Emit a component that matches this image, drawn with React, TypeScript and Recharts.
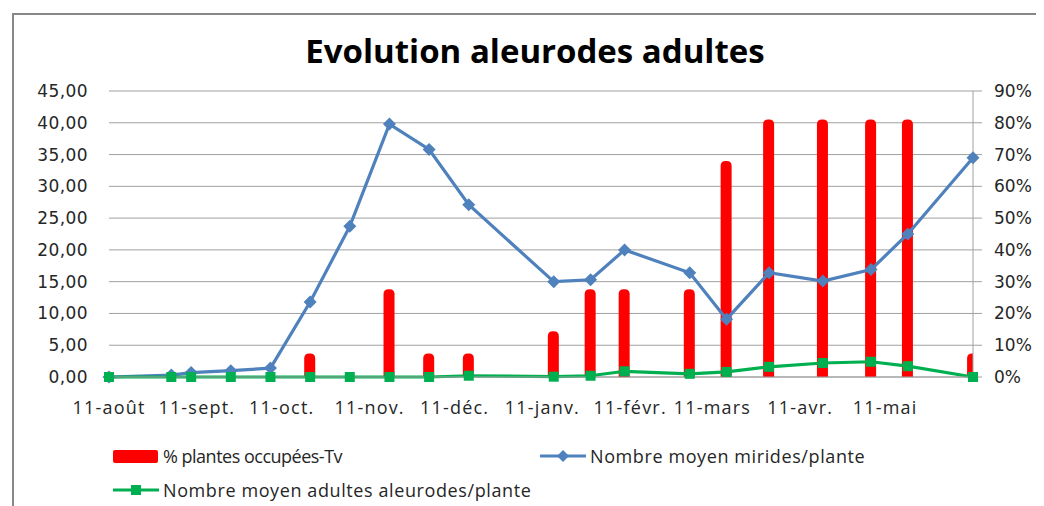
import React from 'react';
import { ComposedChart, Bar, Line, XAxis, YAxis, CartesianGrid, Legend } from 'recharts';

// ---- data ----
const sampleDates = [
  '2011-08-11', '2011-09-02', '2011-09-09', '2011-09-23', '2011-10-07', '2011-10-21',
  '2011-11-04', '2011-11-18', '2011-12-02', '2011-12-16', '2012-01-15', '2012-01-28',
  '2012-02-09', '2012-03-03', '2012-03-16', '2012-03-31', '2012-04-19', '2012-05-06',
  '2012-05-19', '2012-06-11',
];
const pctPlantesOccupees = [0, 0, 0, 0, 0, 7.4, 0, 27.6, 7.4, 7.4, 14.4, 27.6, 27.6, 27.6, 68, 81, 81, 81, 81, 7.4];
const miridesParPlante = [0, 0.3, 0.7, 1.0, 1.4, 11.8, 23.7, 39.8, 35.8, 27.1, 15.0, 15.3, 20.0, 16.4, 9.1, 16.4, 15.1, 16.9, 22.5, 34.5];
const aleurodesParPlante = [0, 0, 0, 0, 0, 0, 0, 0, 0, 0.2, 0.05, 0.2, 0.9, 0.5, 0.8, 1.6, 2.2, 2.4, 1.7, 0];
const tickDates = ['2011-08-11', '2011-09-11', '2011-10-11', '2011-11-11', '2011-12-11', '2012-01-11', '2012-02-11', '2012-03-11', '2012-04-11', '2012-05-11'];
const tickLabels = ['11-août', '11-sept.', '11-oct.', '11-nov.', '11-déc.', '11-janv.', '11-févr.', '11-mars', '11-avr.', '11-mai'];
const leftTicks = [0, 5, 10, 15, 20, 25, 30, 35, 40, 45];
const rightTicks = [0, 10, 20, 30, 40, 50, 60, 70, 80, 90];
const seriesNames = ['% plantes occupées-Tv', 'Nombre moyen mirides/plante', 'Nombre moyen adultes aleurodes/plante'];
const title = 'Evolution aleurodes adultes';

// ---- layout / style ----
const W = 1036;
const H = 498;
const LEFT_AXIS_W = 101;
const RIGHT_AXIS_W = 71;
const MARGIN = { top: 83, right: 0, bottom: 89, left: 0 };
const PLOT_LEFT = MARGIN.left + LEFT_AXIS_W;
const PLOT_RIGHT = W - MARGIN.right - RIGHT_AXIS_W;
const RED = '#FF0000';
const BLUE = '#4F81BD';
const GREEN = '#00B050';
const GRID = '#a0a0a0';
const TEXT = '#262626';

const DAY = 86400000;
const toDay = (iso: string) => Date.parse(iso + 'T00:00:00Z') / DAY;

const data = sampleDates.map((d, i) => ({
  t: toDay(d),
  pct: pctPlantesOccupees[i],
  mir: miridesParPlante[i],
  ale: aleurodesParPlante[i],
}));
const tickValues = tickDates.map(toDay);
const labelByTick = new Map<number, string>(tickValues.map((v, i) => [v, tickLabels[i]]));

const RedBar = (props: any) => {
  const { x, y, width, height, index } = props;
  if (!height || height <= 0) return null;
  const r = Math.min(width / 2, 5);
  const d = `M${x},${y + height} L${x},${y + r} Q${x},${y} ${x + r},${y} L${x + width - r},${y} Q${x + width},${y} ${x + width},${y + r} L${x + width},${y + height} Z`;
  const id = `barclip-${index}`;
  return (
    <g>
      <clipPath id={id}>
        <rect x={PLOT_LEFT} y={0} width={PLOT_RIGHT - PLOT_LEFT} height={H} />
      </clipPath>
      <path d={d} fill={RED} clipPath={`url(#${id})`} />
    </g>
  );
};

const Diamond = (props: any) => {
  const { cx, cy } = props;
  if (cx == null || cy == null) return null;
  const s = 6.5;
  return <polygon points={`${cx},${cy - s} ${cx + s},${cy} ${cx},${cy + s} ${cx - s},${cy}`} fill={BLUE} />;
};

const Square = (props: any) => {
  const { cx, cy } = props;
  if (cx == null || cy == null) return null;
  const s = 5;
  return <rect x={cx - s} y={cy - s} width={2 * s} height={2 * s} fill={GREEN} />;
};

const LEGEND_FONT = "'Open Sans', sans-serif";

const renderLegend = () => {
  const txt: React.CSSProperties = {
    position: 'absolute',
    fontFamily: LEGEND_FONT,
    fontSize: 18,
    color: TEXT,
    whiteSpace: 'nowrap',
    lineHeight: '20px',
  };
  return (
    <div style={{ position: 'relative', width: W, height: 0 }}>
      {/* red bar item */}
      <div style={{ position: 'absolute', left: 105, top: 442, width: 45, height: 13, background: RED, borderRadius: 2 }} />
      <div style={{ ...txt, left: 155, top: 438, letterSpacing: -0.5 }}>{seriesNames[0]}</div>
      {/* blue line item */}
      <svg style={{ position: 'absolute', left: 532, top: 438 }} width={46} height={20}>
        <line x1={0} y1={10} x2={46} y2={10} stroke={BLUE} strokeWidth={3} />
        <polygon points="23,4 29,10 23,16 17,10" fill={BLUE} />
      </svg>
      <div style={{ ...txt, left: 582, top: 438, letterSpacing: 0.6 }}>{seriesNames[1]}</div>
      {/* green line item */}
      <svg style={{ position: 'absolute', left: 105, top: 472 }} width={46} height={20}>
        <line x1={0} y1={10} x2={46} y2={10} stroke={GREEN} strokeWidth={3} />
        <rect x={18} y={5} width={10} height={10} fill={GREEN} />
      </svg>
      <div style={{ ...txt, left: 155, top: 472, letterSpacing: 0.6 }}>{seriesNames[2]}</div>
    </div>
  );
};

export default function App() {
  return (
    <div style={{ position: 'relative', width: W, height: H, overflow: 'hidden', background: '#fff' }}>
      <div
        style={{
          position: 'absolute',
          left: 4,
          top: 5,
          width: W + 50,
          height: H + 50,
          borderLeft: '2px solid #878787',
          borderTop: '2px solid #878787',
          boxSizing: 'border-box',
        }}
      />
      <div style={{ position: 'absolute', left: 0, top: 0 }}>
        <ComposedChart width={W} height={H} data={data} margin={MARGIN}>
          <text
            x={527}
            y={55}
            textAnchor="middle"
            fontFamily="'Open Sans', sans-serif"
            fontWeight="bold"
            fontSize={33}
            fill="#000"
          >
            {title}
          </text>
          <CartesianGrid yAxisId="left" vertical={false} stroke={GRID} strokeWidth={1} />
          <XAxis
            type="number"
            dataKey="t"
            domain={['dataMin', 'dataMax']}
            ticks={tickValues}
            interval={0}
            tickFormatter={(v: number) => labelByTick.get(v) ?? ''}
            tickLine={false}
            axisLine={{ stroke: GRID }}
            tickSize={0}
            tickMargin={24}
            height={40}
            tick={{ fontFamily: LEGEND_FONT, fontSize: 18, fill: TEXT, letterSpacing: 1.2 }}
          />
          <YAxis
            yAxisId="left"
            domain={[0, 45]}
            ticks={leftTicks}
            interval={0}
            width={LEFT_AXIS_W}
            axisLine={false}
            tickLine={false}
            tickSize={0}
            tickMargin={21}
            tickFormatter={(v: number) => v.toFixed(2).replace('.', ',')}
            tick={{ fontFamily: "'DejaVu Sans', sans-serif", fontSize: 17, fill: TEXT, letterSpacing: 0.4 }}
          />
          <YAxis
            yAxisId="right"
            orientation="right"
            domain={[0, 90]}
            ticks={rightTicks}
            interval={0}
            width={RIGHT_AXIS_W}
            axisLine={{ stroke: GRID }}
            tickLine={{ stroke: GRID }}
            tickSize={9}
            tickMargin={12}
            tickFormatter={(v: number) => `${v}%`}
            tick={{ fontFamily: "'DejaVu Sans', sans-serif", fontSize: 17, fill: TEXT }}
          />
          <Bar yAxisId="right" dataKey="pct" name={seriesNames[0]} barSize={11} shape={RedBar} isAnimationActive={false} />
          <Line
            yAxisId="left"
            type="linear"
            dataKey="mir"
            name={seriesNames[1]}
            stroke={BLUE}
            strokeWidth={3.2}
            dot={<Diamond />}
            activeDot={false}
            isAnimationActive={false}
          />
          <Line
            yAxisId="left"
            type="linear"
            dataKey="ale"
            name={seriesNames[2]}
            stroke={GREEN}
            strokeWidth={3.2}
            dot={<Square />}
            activeDot={false}
            isAnimationActive={false}
          />
          <Legend
            content={renderLegend}
            wrapperStyle={{ position: 'absolute', left: 0, top: 0, width: W, height: 0, margin: 0, padding: 0 }}
          />
        </ComposedChart>
      </div>
    </div>
  );
}
